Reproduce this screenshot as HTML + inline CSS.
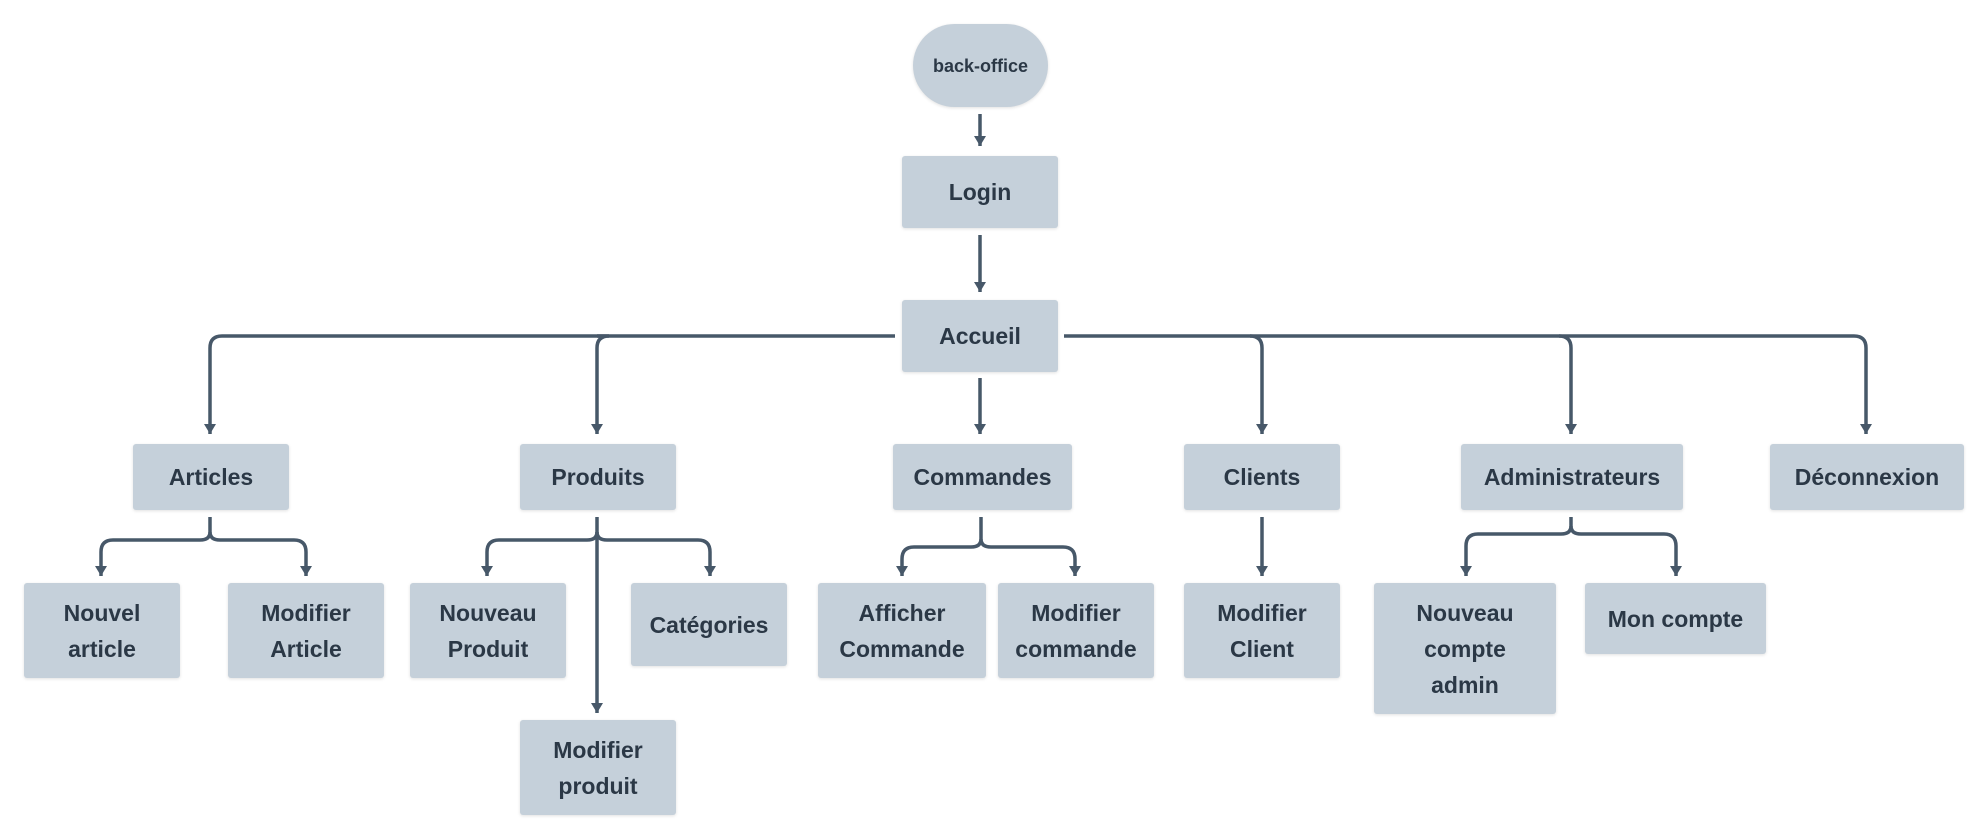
<!DOCTYPE html>
<html><head><meta charset="utf-8"><style>
html,body{margin:0;padding:0;background:#fff;}
#c{position:relative;width:1988px;height:840px;overflow:hidden;font-family:"Liberation Sans","DejaVu Sans",sans-serif;}
.b{position:absolute;background:#c5d0da;border-radius:3px;box-shadow:0 1px 3px rgba(0,0,0,0.12);display:flex;align-items:center;justify-content:center;text-align:center;color:#2b3846;font-weight:bold;font-size:23px;line-height:36px;}
svg{position:absolute;left:0;top:0;}
</style></head><body><div id="c">
<svg width="1988" height="840">
<defs><marker id="a" markerWidth="10" markerHeight="10" refX="5" refY="8" orient="auto" markerUnits="userSpaceOnUse"><path d="M-1,0 L11,0 L5,10 Z" fill="#475869" transform="rotate(-90 5 5)"/></marker>
<marker id="m" viewBox="0 0 12 10" markerWidth="12" markerHeight="10" refX="6" refY="10" orient="0" markerUnits="userSpaceOnUse"><path d="M0,0 L12,0 L6,10 Z" fill="#475869"/></marker></defs>
<g stroke="#475869" stroke-width="3.5" fill="none">
<path d="M980,114 V146" marker-end="url(#m)"/>
<path d="M980,235 V292" marker-end="url(#m)"/>
<path d="M980,378 V434" marker-end="url(#m)"/>
<path d="M895,336 H222 Q210,336 210,348 V434" marker-end="url(#m)"/>
<path d="M597,336 Q597,336 609,336 M609,336 Q597,336 597,348 V434" marker-end="url(#m)"/>
<path d="M1064,336 H1854 Q1866,336 1866,348 V434" marker-end="url(#m)"/>
<path d="M1250,336 Q1262,336 1262,348 V434" marker-end="url(#m)"/>
<path d="M1559,336 Q1571,336 1571,348 V434" marker-end="url(#m)"/>
<!-- Articles -->
<path d="M210,517 V532 Q210,540 200,540 H113 Q101,540 101,552 V576" marker-end="url(#m)"/>
<path d="M210,532 Q210,540 220,540 H294 Q306,540 306,552 V576" marker-end="url(#m)"/>
<!-- Produits -->
<path d="M597,517 V532 Q597,540 587,540 H499 Q487,540 487,552 V576" marker-end="url(#m)"/>
<path d="M597,532 Q597,540 607,540 H698 Q710,540 710,552 V576" marker-end="url(#m)"/>
<path d="M597,532 V713" marker-end="url(#m)"/>
<!-- Commandes -->
<path d="M981,517 V539 Q981,547 971,547 H914 Q902,547 902,559 V576" marker-end="url(#m)"/>
<path d="M981,539 Q981,547 991,547 H1063 Q1075,547 1075,559 V576" marker-end="url(#m)"/>
<!-- Clients -->
<path d="M1262,517 V576" marker-end="url(#m)"/>
<!-- Admins -->
<path d="M1571,517 V526 Q1571,534 1561,534 H1478 Q1466,534 1466,546 V576" marker-end="url(#m)"/>
<path d="M1571,526 Q1571,534 1581,534 H1664 Q1676,534 1676,546 V576" marker-end="url(#m)"/>
</g></svg>
<div class="b" style="left:913px;top:24px;width:135px;height:83px;border-radius:42px;font-size:18px;">back-office</div>
<div class="b" style="left:902px;top:156px;width:156px;height:72px;">Login</div>
<div class="b" style="left:902px;top:300px;width:156px;height:72px;">Accueil</div>
<div class="b" style="left:133px;top:444px;width:156px;height:66px;">Articles</div>
<div class="b" style="left:520px;top:444px;width:156px;height:66px;">Produits</div>
<div class="b" style="left:893px;top:444px;width:179px;height:66px;">Commandes</div>
<div class="b" style="left:1184px;top:444px;width:156px;height:66px;">Clients</div>
<div class="b" style="left:1461px;top:444px;width:222px;height:66px;">Administrateurs</div>
<div class="b" style="left:1770px;top:444px;width:194px;height:66px;">Déconnexion</div>
<div class="b" style="left:24px;top:583px;width:156px;height:95px;">Nouvel<br>article</div>
<div class="b" style="left:228px;top:583px;width:156px;height:95px;">Modifier<br>Article</div>
<div class="b" style="left:410px;top:583px;width:156px;height:95px;">Nouveau<br>Produit</div>
<div class="b" style="left:631px;top:583px;width:156px;height:83px;">Catégories</div>
<div class="b" style="left:818px;top:583px;width:168px;height:95px;">Afficher<br>Commande</div>
<div class="b" style="left:998px;top:583px;width:156px;height:95px;">Modifier<br>commande</div>
<div class="b" style="left:1184px;top:583px;width:156px;height:95px;">Modifier<br>Client</div>
<div class="b" style="left:1374px;top:583px;width:182px;height:131px;">Nouveau<br>compte<br>admin</div>
<div class="b" style="left:1585px;top:583px;width:181px;height:71px;">Mon compte</div>
<div class="b" style="left:520px;top:720px;width:156px;height:95px;">Modifier<br>produit</div>
</div></body></html>
